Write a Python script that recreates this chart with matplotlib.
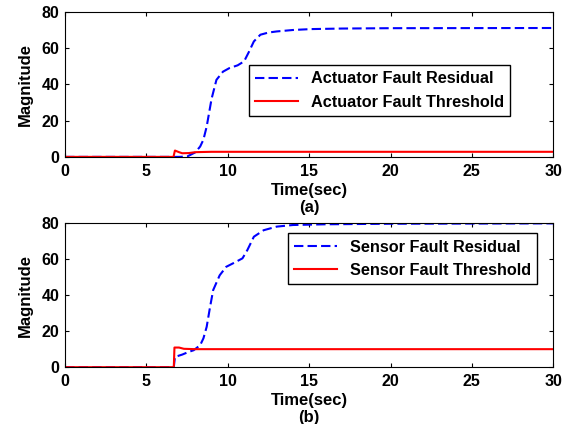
import numpy as np
import matplotlib
matplotlib.use('Agg')
import matplotlib.pyplot as plt

# actuator fault (a)
act_t = [0, 6.6, 7.0, 7.5, 8.0, 8.3, 8.5, 8.7, 9.0, 9.3, 9.7, 10.1, 10.6, 11.0, 11.3, 11.6, 12.0, 12.5, 13.0, 14.0, 15.1, 17.0, 20.0, 30.0]
act_res = [0, 0, 0, 0.2, 2.5, 5.7, 9.5, 16.7, 32.0, 42.5, 47.0, 49.0, 50.5, 52.7, 58.0, 63.7, 67.4, 68.6, 69.2, 70.0, 70.5, 70.8, 71.0, 71.1]
act_thr_t = [0, 6.66, 6.75, 7.0, 7.2, 7.6, 8.0, 9.0, 30.0]
act_thr = [0, 0, 3.5, 2.6, 2.0, 2.1, 2.6, 2.8, 2.8]

# sensor fault (b)
sen_t = [0, 6.68, 6.75, 7.2, 7.6, 7.9, 8.3, 8.5, 8.7, 8.9, 9.1, 9.5, 9.9, 10.4, 10.9, 11.2, 11.6, 12.2, 13.0, 14.0, 16.0, 20.0, 30.0]
sen_res = [0, 0, 5.7, 7.0, 8.5, 9.4, 12.2, 16.0, 22.4, 33.0, 42.8, 51.0, 55.7, 58.0, 60.4, 65.0, 72.4, 76.0, 78.0, 78.9, 79.3, 79.6, 79.8]
sen_thr_t = [0, 6.68, 6.72, 7.0, 7.3, 8.0, 30.0]
sen_thr = [0, 0, 10.9, 10.9, 10.2, 10.0, 10.0]

xticks = [0, 5, 10, 15, 20, 25, 30]
yticks = [0, 20, 40, 60, 80]

plt.rcParams['font.family'] = ['Liberation Sans', 'DejaVu Sans']
plt.rcParams['font.weight'] = 'bold'

fig = plt.figure(figsize=(5.71, 4.24), dpi=100)
ax1 = fig.add_axes([0.114, 0.630, 0.855, 0.342])
ax2 = fig.add_axes([0.114, 0.134, 0.855, 0.340])

panels = [
    (ax1, act_t, act_res, act_thr_t, act_thr, 'Actuator', '(a)', (0.912, 0.634)),
    (ax2, sen_t, sen_res, sen_thr_t, sen_thr, 'Sensor', '(b)', (0.967, 0.93)),
]

for ax, t, r, tt, th, name, tag, anchor in panels:
    ax.plot(t, r, color='blue', linestyle='--', dashes=(4.5, 2), lw=1.5,
            label=f'{name} Fault Residual')
    ax.plot(tt, th, color='red', lw=1.5, label=f'{name} Fault Threshold')
    ax.set_xlim(0, 30)
    ax.set_ylim(0, 80)
    ax.set_xticks(xticks)
    ax.set_yticks(yticks)
    ax.tick_params(direction='in', top=True, right=True, labelsize=11.5,
                   length=3)
    ax.tick_params(axis='x', pad=5)
    ax.tick_params(axis='y', pad=4)
    for lbl in ax.get_xticklabels() + ax.get_yticklabels():
        lbl.set_fontweight('bold')
    ax.set_ylabel('Magnitude', fontsize=12, fontweight='bold', labelpad=6)
    ax.set_xlabel(f'Time(sec)\n{tag}', fontsize=12, fontweight='bold',
                  labelpad=3, linespacing=1.15)
    leg = ax.legend(loc='upper right', bbox_to_anchor=anchor, borderaxespad=0,
                    fancybox=False, edgecolor='black', fontsize=11.7,
                    handlelength=2.6, framealpha=1)
    leg.get_frame().set_linewidth(1.0)
    for txt in leg.get_texts():
        txt.set_fontweight('bold')

fig.savefig('out.png', dpi=100)
